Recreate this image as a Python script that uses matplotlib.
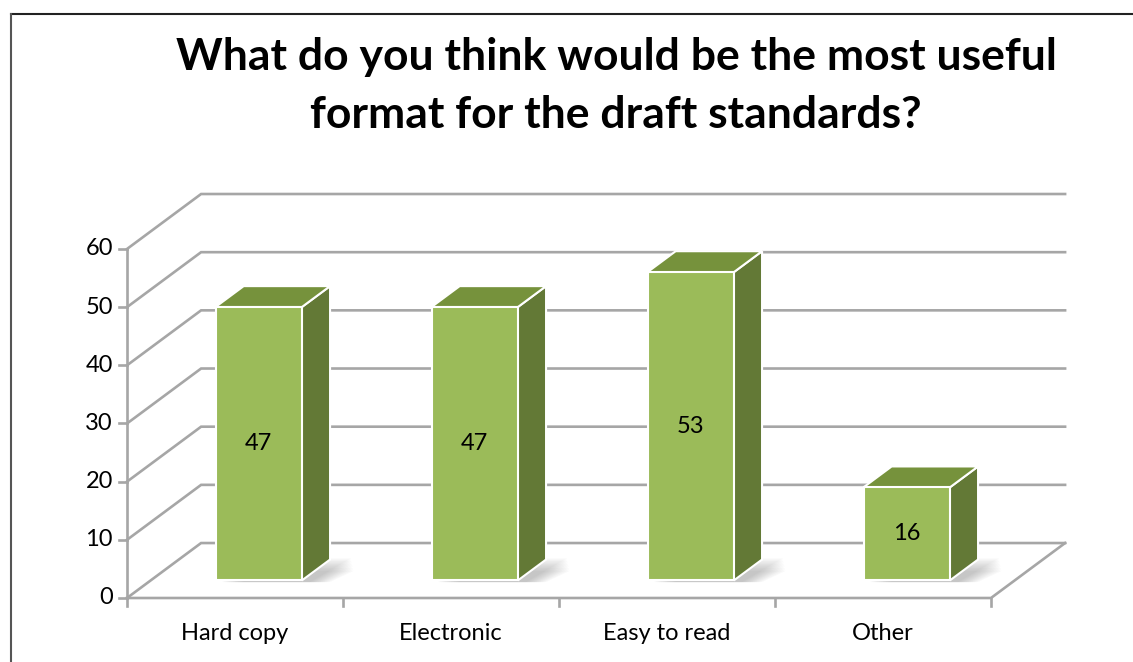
import numpy as np
import matplotlib
matplotlib.use("Agg")
import matplotlib.pyplot as plt
from matplotlib.patches import Polygon

plt.rcParams['font.family'] = ['Lato', 'DejaVu Sans']

# data
categories = ['Hard copy', 'Electronic', 'Easy to read', 'Other']
values = [47, 47, 53, 16]
yticks = [0, 10, 20, 30, 40, 50, 60]

# pseudo 3d geometry (category units, value units)
DX, DY = 0.343, 9.45      # offset of the back wall
BAR_L, BAR_R = 0.30, 0.70  # bar position inside a category
D0, D1 = 0.32, 0.70        # bar depth range

front_c = '#9BBB59'
top_c = '#76923C'
side_c = '#637936'
grid_c = '#A6A6A6'

def proj(x, d, v):
    return (x + DX * d, v + DY * d)

fig = plt.figure(figsize=(11.33, 6.62), dpi=100)
ax = fig.add_axes([0, 0, 1, 1])
# pixel -> data: x 127px = 0, 216 px per category; y 598px = 0, 5.817 px per unit
ax.set_xlim(-127 / 216, (1133 - 127) / 216)
ax.set_ylim(-(662 - 598) / 5.817, 598 / 5.817)
ax.axis('off')

n = len(categories)
lw = 1.9

# back wall gridlines + left wall oblique lines
for t in yticks:
    p0 = proj(0, 0, t)
    p1 = proj(0, 1, t)
    p2 = proj(n, 1, t)
    ax.plot([p0[0], p1[0], p2[0]], [p0[1], p1[1], p2[1]], color=grid_c, lw=lw,
            solid_joinstyle='miter', zorder=1)

# floor front and right edge
f0 = proj(0, 0, 0)
f1 = proj(n, 0, 0)
f2 = proj(n, 1, 0)
ax.plot([f0[0], f1[0], f2[0]], [f0[1], f1[1], f2[1]], color=grid_c, lw=lw, zorder=1)

# y axis
ax.plot([0, 0], [0, yticks[-1]], color=grid_c, lw=lw, zorder=2)
for t in yticks:
    ax.plot([-8 / 216, 0], [t, t], color=grid_c, lw=lw, zorder=2)
    ax.text(-14 / 216, t, str(t), ha='right', va='center', fontsize=17, color='black')
for i in range(n + 1):
    ax.plot([i, i], [0, -8 / 5.817], color=grid_c, lw=lw, zorder=2)

for i, (c, v) in enumerate(zip(categories, values)):
    ax.text(i + 0.5, -35 / 5.817, c, ha='center', va='center', fontsize=17)

# bars
for i, v in enumerate(values):
    xl, xr = i + BAR_L, i + BAR_R
    # soft shadow on the floor
    for k in range(10):
        s = 0.01 * k
        pts = [proj(xl + 0.04 + s, D0 - 0.03, 0), proj(xr + 0.05 + s, D0 - 0.03, 0),
               proj(xr + 0.09 + s, D1 + 0.02 - 0.025 * k, 0), proj(xl + 0.09 + s, D1 + 0.02 - 0.025 * k, 0)]
        ax.add_patch(Polygon(pts, closed=True, fc='#505050', ec='none', alpha=0.035, zorder=3))
    front = [proj(xl, D0, 0), proj(xr, D0, 0), proj(xr, D0, v), proj(xl, D0, v)]
    side = [proj(xr, D0, 0), proj(xr, D1, 0), proj(xr, D1, v), proj(xr, D0, v)]
    top = [proj(xl, D0, v), proj(xr, D0, v), proj(xr, D1, v), proj(xl, D1, v)]
    ax.add_patch(Polygon(side, closed=True, fc=side_c, ec='white', lw=1.5, zorder=4))
    ax.add_patch(Polygon(top, closed=True, fc=top_c, ec='white', lw=1.5, zorder=4))
    ax.add_patch(Polygon(front, closed=True, fc=front_c, ec='white', lw=1.5, zorder=5))
    cx, cy = proj((xl + xr) / 2, D0, v / 2)
    ax.text(cx, cy, str(v), ha='center', va='center', fontsize=17, zorder=6)

# title
fig.text(616 / 1133, 1 - 86 / 662,
         'What do you think would be the most useful\nformat for the draft standards?',
         ha='center', va='center', fontsize=32, fontweight='bold', linespacing=1.55)

# outer frame (top and left edges)
fig.add_artist(plt.Line2D([11 / 1133, 1], [1 - 13.5 / 662, 1 - 13.5 / 662],
                          color='#222222', lw=1.5, transform=fig.transFigure))
fig.add_artist(plt.Line2D([11 / 1133, 11 / 1133], [0, 1 - 13.5 / 662],
                          color='#555555', lw=1.5, transform=fig.transFigure))

fig.savefig('out.png', dpi=100)
